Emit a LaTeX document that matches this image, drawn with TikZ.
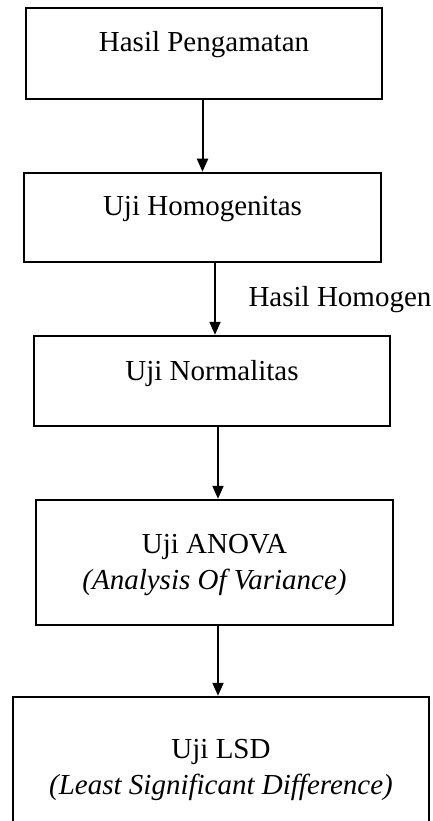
\documentclass[tikz,border=0pt]{standalone}
\usepackage{fontspec}
\setmainfont{Liberation Serif}
\usetikzlibrary{arrows.meta}

\begin{document}
\begin{tikzpicture}[x=1pt,y=-1pt,
    kotak/.style={draw,rectangle,line width=2.5pt,inner sep=0pt,font=\fontsize{29}{36}\selectfont},
    panah/.style={-{Triangle[width=11pt,length=13pt]},line width=2pt},
    ket/.style={font=\fontsize{29}{36}\selectfont}]
          \useasboundingbox (0,0) rectangle (432,821);
          \node[kotak,minimum width=356pt,minimum height=91pt,text height=44pt,text depth=47pt] (A) at (204,53.5) {Hasil Pengamatan};
          \node[kotak,minimum width=357pt,minimum height=89pt,text height=42pt,text depth=47pt] (B) at (202.5,217.5) {Uji Homogenitas};
          \node[kotak,minimum width=356pt,minimum height=90pt,text height=44pt,text depth=46pt] (C) at (212,381) {Uji Normalitas};
          \node[kotak,minimum width=357pt,minimum height=125pt,text height=53pt,text depth=72pt] (D) at (214.5,562.5) {\begin{tabular}[t]{@{}c@{}}Uji ANOVA\\ \textit{(Analysis Of Variance)}\end{tabular}};
          \node[kotak,minimum width=416pt,minimum height=143pt,text height=61pt,text depth=82pt] (E) at (221,768.5) {\begin{tabular}[t]{@{}c@{}}Uji LSD\\ \textit{(Least Significant Difference)}\end{tabular}};
          \node[ket,anchor=base west] (H) at (245,306) {Hasil Homogen};

          \coordinate (b1) at ([xshift=12.5pt]B.south);
          \coordinate (c1) at ([xshift=6pt]C.south);
          \coordinate (d1) at ([xshift=3.5pt]D.south);

          \draw[panah] (A.south -| B.north) -- (B.north);
          \draw[panah] (b1) -- (b1 |- C.north);
          \draw[panah] (c1) -- (c1 |- D.north);
          \draw[panah] (d1) -- (d1 |- E.north);
        \end{tikzpicture}
\end{document}
